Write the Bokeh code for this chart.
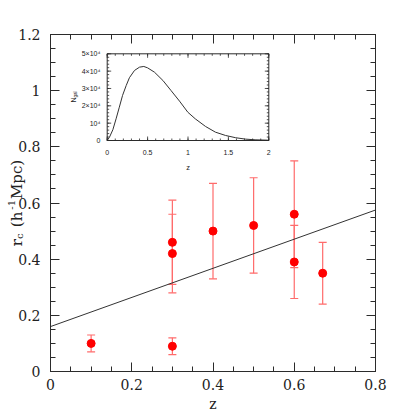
import numpy as np
from bokeh.plotting import figure
from bokeh.models import (Range1d, FixedTicker, LinearAxis, ColumnDataSource,
                          Whisker, TeeHead, CustomJSTickFormatter)
from bokeh.core.properties import value
from bokeh.embed import file_html
from bokeh.resources import INLINE

# ---------------- data ----------------
z_obs = [0.1, 0.3, 0.3, 0.3, 0.4, 0.5, 0.6, 0.6, 0.67]
rc_obs = [0.10, 0.09, 0.42, 0.46, 0.50, 0.52, 0.56, 0.39, 0.35]
rc_lo = [0.07, 0.06, 0.28, 0.31, 0.33, 0.35, 0.37, 0.26, 0.24]
rc_hi = [0.13, 0.12, 0.56, 0.61, 0.67, 0.69, 0.75, 0.52, 0.46]

fit_z = [0.0, 0.8]
fit_rc = [0.16, 0.575]

x_lim = [0.0, 0.8]
y_lim = [0.0, 1.2]
x_tick_vals = [0, 0.2, 0.4, 0.6, 0.8]
x_tick_labels = ["0", "0.2", "0.4", "0.6", "0.8"]
y_tick_vals = [0, 0.2, 0.4, 0.6, 0.8, 1.0, 1.2]
y_tick_labels = ["0", "0.2", "0.4", "0.6", "0.8", "1", "1.2"]

# inset: N_gal(z)
nz_z = [0.0, 0.028, 0.07, 0.11, 0.15, 0.19, 0.235, 0.275, 0.338, 0.40, 0.453,
        0.50, 0.585, 0.69, 0.79, 0.895, 0.998, 1.09, 1.217, 1.34, 1.465, 1.59,
        1.71, 1.83, 1.98, 2.0]
nz_n = [0, 1900, 6200, 12500, 19200, 26000, 31700, 36200, 40400, 42300, 42700,
        41900, 39400, 34600, 28800, 22700, 16300, 12500, 8100, 4800, 2900, 1600,
        800, 400, 200, 150]
inset_x_ticks = [0, 0.5, 1, 1.5, 2]
inset_x_labels = ["0", "0.5", "1", "1.5", "2"]
inset_y_ticks = [0, 10000, 20000, 30000, 40000, 50000]
inset_y_labels = ["0", "10\u2074", "2\u00d710\u2074", "3\u00d710\u2074",
                  "4\u00d710\u2074", "5\u00d710\u2074"]
inset_xlim = [0, 2]
inset_ylim = [0, 50000]

# ---------------- layout (picture pixels) ----------------
AX = "#2b2b2b"
TXT = "#222222"
ERR = "#ff6b6b"
PT = "#ff0000"
SERIF = "DejaVu Serif"
SANS = "Liberation Sans"

CW, CH = 409, 409          # canvas = frame
BOX_L, BOX_R, BOX_T, BOX_B = 50, 375, 34, 371       # main box
IN_L, IN_R, IN_T, IN_B = 106.7, 268.3, 53.3, 140.0  # inset box

ppx = (BOX_R - BOX_L) / (x_lim[1] - x_lim[0])
ppy = (BOX_B - BOX_T) / (y_lim[1] - y_lim[0])
xs = x_lim[0] - BOX_L / ppx
ye = y_lim[1] + BOX_T / ppy

p = figure(width=CW, height=CH,
           x_range=Range1d(xs, xs + CW / ppx),
           y_range=Range1d(ye - CH / ppy, ye),
           output_backend="svg", toolbar_location=None,
           min_border=0, min_border_left=0, min_border_right=0,
           min_border_top=0, min_border_bottom=0)
p.xgrid.visible = False
p.ygrid.visible = False
p.outline_line_color = None
p.background_fill_color = "white"
p.border_fill_color = "white"


def px_x(px):
    return xs + px / ppx


def px_y(py):
    return ye - py / ppy


x_minor = list(np.arange(0, 0.8001, 0.05))
y_minor = list(np.arange(0, 1.2001, 0.05))
blank = CustomJSTickFormatter(code="return ''")


def style(ax, ticks, minor, labels, show, standoff, loc, bounds):
    ax.ticker = FixedTicker(ticks=ticks, minor_ticks=minor)
    ax.fixed_location = loc
    ax.bounds = bounds
    ax.axis_line_color = AX
    ax.axis_line_width = 1
    ax.major_tick_line_color = AX
    ax.minor_tick_line_color = AX
    ax.major_tick_in = 9
    ax.major_tick_out = 0
    ax.minor_tick_in = 5
    ax.minor_tick_out = 0
    if show:
        ax.major_label_overrides = dict(zip(ticks, labels))
        ax.major_label_text_font = SERIF
        ax.major_label_text_font_size = "14px"
        ax.major_label_text_color = TXT
        ax.major_label_standoff = standoff
    else:
        ax.formatter = blank
        ax.major_label_standoff = 0


style(p.xaxis[0], x_tick_vals, x_minor, x_tick_labels, True, 7, y_lim[0], tuple(x_lim))
style(p.yaxis[0], y_tick_vals, y_minor, y_tick_labels, True, 10, x_lim[0], tuple(y_lim))
top_ax = LinearAxis()
right_ax = LinearAxis()
style(top_ax, x_tick_vals, x_minor, x_tick_labels, False, 0, y_lim[1], tuple(x_lim))
style(right_ax, y_tick_vals, y_minor, y_tick_labels, False, 0, x_lim[1], tuple(y_lim))
p.add_layout(top_ax, "above")
p.add_layout(right_ax, "right")

# ---------------- main data ----------------
src = ColumnDataSource(dict(z=z_obs, rc=rc_obs, lo=rc_lo, hi=rc_hi))
w = Whisker(source=src, base="z", upper="hi", lower="lo",
            line_color=ERR, line_width=1.2,
            upper_head=TeeHead(size=8, line_color=ERR, line_width=1.2),
            lower_head=TeeHead(size=8, line_color=ERR, line_width=1.2))
p.add_layout(w)
p.line(fit_z, fit_rc, line_color="#333333", line_width=1)
p.scatter("z", "rc", source=src, size=8, fill_color=PT, line_color=PT)

# ---------------- axis titles ----------------
p.text(x=[px_x((BOX_L + BOX_R) / 2)], y=[px_y(403)], text=["z"],
       text_font=value(SERIF), text_font_size="14px", text_align="center",
       text_baseline="alphabetic", text_color=TXT)

# y title: r_c (h^-1 Mpc), rotated, built from pieces
# (text, font px, baseline x, advance, gap before)
pieces = [("r", 15, 16.0, 7.2, 0), ("c", 10, 18.5, 5.9, 0),
          ("(h", 15, 16.0, 15.5, 6.0), ("-1", 10, 10.5, 9.7, 2.0),
          ("Mpc)", 15, 16.0, 39.3, 1.0)]
total = sum(pc[3] + pc[4] for pc in pieces)
ystart = (BOX_T + BOX_B) / 2 + total / 2
for txt, fs, bx, wdt, gap in pieces:
    ystart -= gap
    p.text(x=[px_x(bx)], y=[px_y(ystart)], text=[txt], angle=np.pi / 2,
           text_font=value(SERIF), text_font_size=f"{fs}px",
           text_align="left", text_baseline="alphabetic", text_color=TXT)
    ystart -= wdt

# ---------------- inset ----------------
ippx = (IN_R - IN_L) / (inset_xlim[1] - inset_xlim[0])
ippy = (IN_B - IN_T) / (inset_ylim[1] - inset_ylim[0])
ixs = inset_xlim[0] - IN_L / ippx
iys = inset_ylim[0] - (CH - IN_B) / ippy
p.extra_x_ranges = {"ix": Range1d(ixs, ixs + CW / ippx)}
p.extra_y_ranges = {"iy": Range1d(iys, iys + CH / ippy)}
R = dict(x_range_name="ix", y_range_name="iy")


def ipx_x(px):
    return ixs + px / ippx


def ipx_y(py):
    return iys + (CH - py) / ippy


p.line(nz_z, nz_n, line_color="#333333", line_width=1, **R)
p.quad(left=[inset_xlim[0]], right=[inset_xlim[1]], bottom=[inset_ylim[0]],
       top=[inset_ylim[1]], fill_color=None, line_color=AX, line_width=1, **R)

ix_minor = np.arange(0, 2.0001, 0.1)
iy_minor = np.arange(0, 50001, 2000)


def ticks_x(vals, L):
    vals = np.asarray(vals, dtype=float)
    n = len(vals)
    ly = L / ippy
    x0 = np.concatenate([vals, vals])
    y0 = np.concatenate([np.full(n, inset_ylim[0]), np.full(n, inset_ylim[1])])
    y1 = np.concatenate([np.full(n, inset_ylim[0] + ly), np.full(n, inset_ylim[1] - ly)])
    return x0, y0, x0, y1


def ticks_y(vals, L):
    vals = np.asarray(vals, dtype=float)
    n = len(vals)
    lx = L / ippx
    y0 = np.concatenate([vals, vals])
    x0 = np.concatenate([np.full(n, inset_xlim[0]), np.full(n, inset_xlim[1])])
    x1 = np.concatenate([np.full(n, inset_xlim[0] + lx), np.full(n, inset_xlim[1] - lx)])
    return x0, y0, x1, y0


for seg in (ticks_x(inset_x_ticks, 4), ticks_x(ix_minor, 2),
            ticks_y(inset_y_ticks, 4), ticks_y(iy_minor, 2)):
    p.segment(x0=seg[0], y0=seg[1], x1=seg[2], y1=seg[3],
              line_color=AX, line_width=0.8, **R)

p.text(x=inset_x_ticks, y=[ipx_y(151.7)] * len(inset_x_ticks), text=inset_x_labels,
       text_font=value(SANS), text_font_size="7px", text_align="center",
       text_baseline="middle", text_color=TXT, **R)
p.text(x=[ipx_x(100)] * len(inset_y_ticks), y=inset_y_ticks, text=inset_y_labels,
       text_font=value(SANS), text_font_size="7px", text_align="right",
       text_baseline="middle", text_color=TXT, **R)
p.text(x=[1.0], y=[ipx_y(166.7)], text=["z"],
       text_font=value(SANS), text_font_size="7.5px", text_align="center",
       text_baseline="middle", text_color=TXT, **R)
p.text(x=[ipx_x(73)], y=[ipx_y(102)], text=["N"],
       angle=np.pi / 2, text_font=value(SANS), text_font_size="7px",
       text_align="left", text_baseline="alphabetic", text_color=TXT, **R)
p.text(x=[ipx_x(75)], y=[ipx_y(97)], text=["gal"],
       angle=np.pi / 2, text_font=value(SANS), text_font_size="4.5px",
       text_align="left", text_baseline="alphabetic", text_color=TXT, **R)

open("out.html", "w").write(file_html(p, INLINE))
